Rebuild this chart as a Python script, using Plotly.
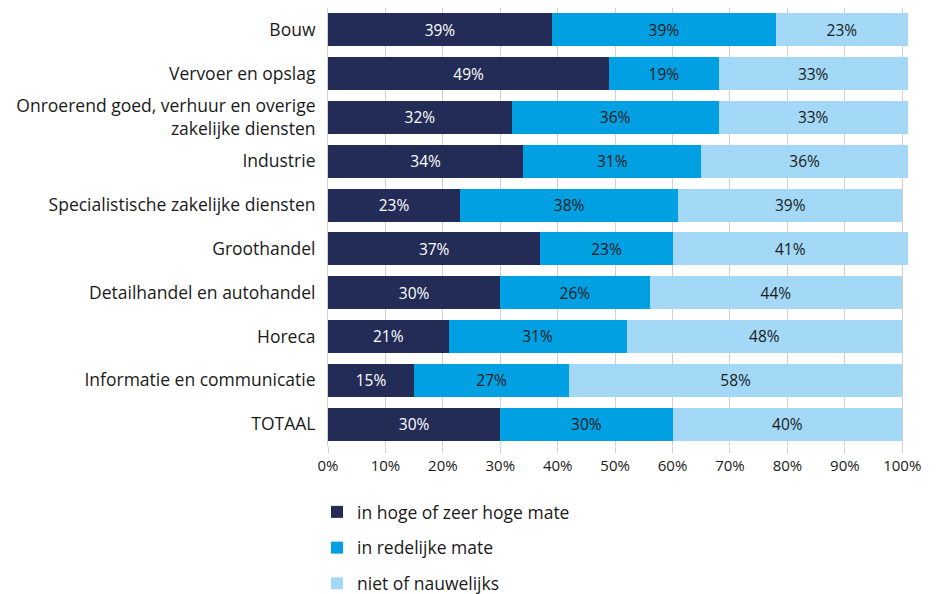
import plotly.graph_objects as go

categories = [
    "Bouw",
    "Vervoer en opslag",
    "Onroerend goed, verhuur en overige<br>zakelijke diensten",
    "Industrie",
    "Specialistische zakelijke diensten",
    "Groothandel",
    "Detailhandel en autohandel",
    "Horeca",
    "Informatie en communicatie",
    "TOTAAL",
]
hoog = [39, 49, 32, 34, 23, 37, 30, 21, 15, 30]
redelijk = [39, 19, 36, 31, 38, 23, 26, 31, 27, 30]
niet = [23, 33, 33, 36, 39, 41, 44, 48, 58, 40]
series_names = ["in hoge of zeer hoge mate", "in redelijke mate", "niet of nauwelijks"]
tick_vals = [0, 10, 20, 30, 40, 50, 60, 70, 80, 90, 100]
tick_text = [f"{v}%" for v in tick_vals]

colors = ["#222C57", "#00A0E2", "#A3D9F6"]
text_colors = ["#FFFFFF", "#1A1A1A", "#1A1A1A"]
FONT = "Open Sans"

fig = go.Figure()
for i, (name, vals) in enumerate(zip(series_names, [hoog, redelijk, niet])):
    fig.add_trace(go.Bar(
        y=categories, x=vals, name=name, orientation="h",
        marker=dict(color=colors[i], line=dict(width=0)),
        text=[f"{v}%" for v in vals], textposition="inside",
        insidetextanchor="middle", textangle=0, constraintext="none",
        textfont=dict(color=text_colors[i], size=15.5, family=FONT),
        legendgroup=f"g{i}",
        hoverinfo="skip",
    ))

fig.update_layout(
    barmode="stack",
    bargap=0.25,
    width=939, height=594,
    margin=dict(l=320, r=39, t=0, b=156),
    paper_bgcolor="white", plot_bgcolor="white",
    font=dict(family=FONT, size=15, color="#1A1A1A"),
    xaxis=dict(
        range=[0, 101], tickvals=tick_vals, ticktext=tick_text,
        showgrid=True, gridcolor="#D0D0D0", gridwidth=1,
        ticks="outside", ticklen=6, tickcolor="#D0D0D0",
        zeroline=False, showline=False, tickfont=dict(size=15),
    ),
    yaxis=dict(
        autorange="reversed", ticks="", ticklabelstandoff=8,
        showline=True, linecolor="#D0D0D0", linewidth=1,
        tickfont=dict(size=17.5),
    ),
    legend=dict(
        x=-0.019, y=-0.11, xanchor="left", yanchor="top",
        orientation="v", traceorder="grouped", tracegroupgap=10,
        font=dict(size=17.5), itemwidth=30,
    ),
    showlegend=True,
)

fig.write_html("out.html")
